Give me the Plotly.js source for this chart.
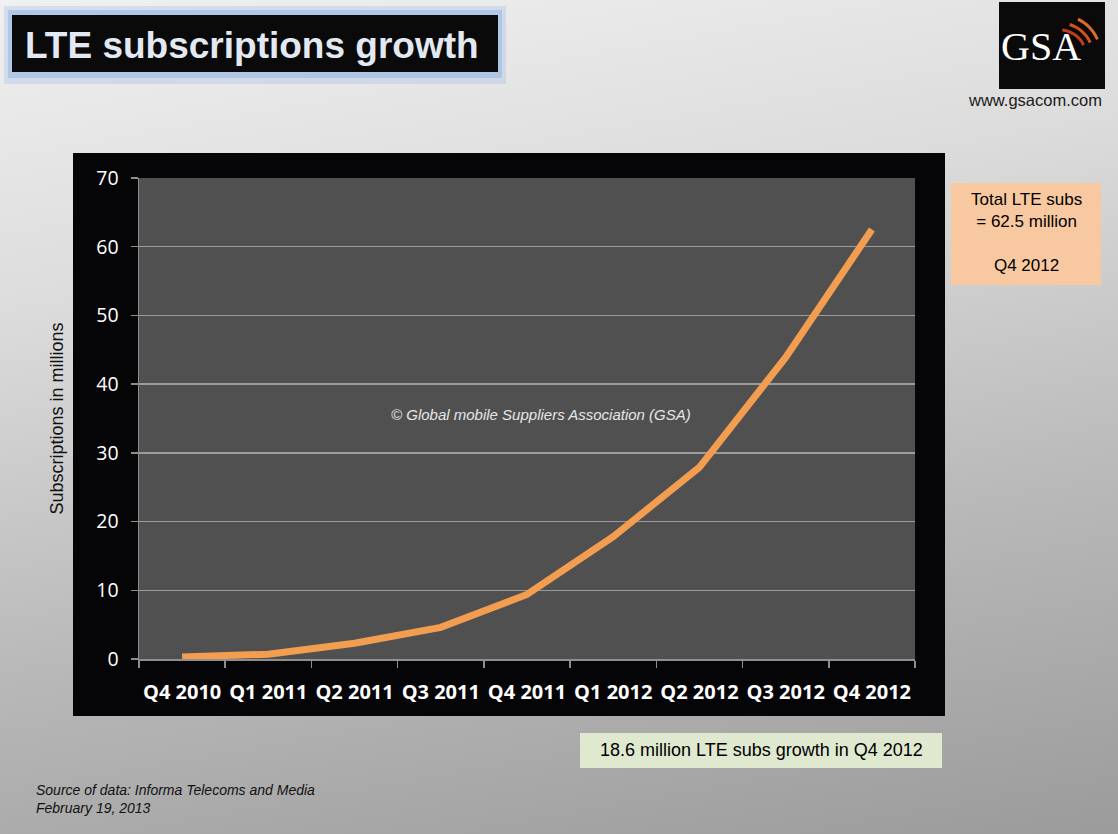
<!DOCTYPE html>
<html>
<head>
<meta charset="utf-8">
<script src="https://cdn.plot.ly/plotly-3.0.1.min.js"></script>
<style>
html, body { margin: 0; padding: 0; }
body {
  width: 1118px; height: 834px; overflow: hidden;
  background: linear-gradient(170deg, #f0f0f0 0%, #dcdcdc 30%, #b9b9b9 65%, #9b9b9b 100%);
}
#chart { width: 1118px; height: 834px; }
</style>
</head>
<body>
<div id="chart"></div>
<script>
// ---- data ----
const quarters = ['Q4 2010', 'Q1 2011', 'Q2 2011', 'Q3 2011', 'Q4 2011', 'Q1 2012', 'Q2 2012', 'Q3 2012', 'Q4 2012'];
const subsMillions = [0.3, 0.7, 2.3, 4.6, 9.4, 17.8, 27.9, 43.9, 62.5];
const yTicks = [0, 10, 20, 30, 40, 50, 60, 70];

// ---- layout geometry helpers (pixel -> paper) ----
const W = 1118, H = 834;
const M = {l: 139, r: 203, t: 178, b: 175};
const PW = W - M.l - M.r, PH = H - M.t - M.b;
const X = px => (px - M.l) / PW;
const Y = py => (H - M.b - py) / PH;

function rect(x0, y0, x1, y1, fill, extra) {
  return Object.assign({type: 'rect', xref: 'paper', yref: 'paper', layer: 'below',
    x0: X(x0), x1: X(x1), y0: Y(y1), y1: Y(y0), fillcolor: fill, line: {width: 0}}, extra || {});
}
function arcPath(cx, cy, r, a1, a2) {
  const n = 4, rad = Math.PI / 180;
  const pt = (a, rr) => [cx + rr * Math.cos(a * rad), cy - rr * Math.sin(a * rad)];
  let p = pt(a1, r);
  let d = 'M' + X(p[0]) + ',' + Y(p[1]);
  const step = (a2 - a1) / n;
  for (let i = 0; i < n; i++) {
    const am = a1 + step * (i + 0.5), ae = a1 + step * (i + 1);
    const c = pt(am, r / Math.cos(Math.abs(step) / 2 * rad));
    const e = pt(ae, r);
    d += ' Q' + X(c[0]) + ',' + Y(c[1]) + ' ' + X(e[0]) + ',' + Y(e[1]);
  }
  return d;
}

const shapes = [
  // title glow + box
  rect(4, 6, 506, 84, 'rgba(160,190,230,0.35)'),
  rect(8, 10, 502, 78, 'rgba(150,182,226,0.55)'),
  rect(12, 15, 498, 72, '#0a0a0a'),
  // GSA logo box
  rect(999, 2, 1105, 89, '#0a0a0a'),
  // chart frame and plot area
  rect(73, 153, 945, 716, '#050507'),
  rect(139, 178, 915, 659, '#505050'),
  // info boxes
  rect(951, 183, 1101, 285, '#f8c9a0'),
  rect(580, 733, 942, 768, '#dfe9cf')
];
[[26, 85, 25, '#c23c18'], [33, 73, 24, '#d4501f'], [41, 64, 24, '#e06a2c']].forEach(([r, a1, a2, c]) => {
  shapes.push({type: 'path', xref: 'paper', yref: 'paper', layer: 'above',
    path: arcPath(1060, 56, r, a1, a2), line: {color: c, width: 3}});
});

const ann = (text, px, py, font, extra) => Object.assign({
  text: text, x: X(px), y: Y(py), xref: 'paper', yref: 'paper',
  xanchor: 'center', yanchor: 'middle', showarrow: false, font: font}, extra || {});

const annotations = [
  ann('<b>LTE subscriptions growth</b>', 252, 45,
      {family: 'Liberation Sans, Arial', size: 37, color: '#e2e9f3'}),
  ann('GSA', 1041, 47, {family: 'Liberation Serif, Times New Roman, serif', size: 40, color: '#ffffff'}),
  ann('www.gsacom.com', 1035, 100, {family: 'Liberation Sans, Arial', size: 16.5, color: '#1a1a1a'}),
  ann('Total LTE subs<br>= 62.5 million<br> <br>Q4 2012', 1026, 233,
      {family: 'Liberation Sans, Arial', size: 17, color: '#000000'}, {align: 'center'}),
  ann('18.6 million LTE subs growth in Q4 2012', 761, 750,
      {family: 'Liberation Sans Narrow, Liberation Sans, Arial', size: 18, color: '#000000'}),
  ann('<i>© Global mobile Suppliers Association (GSA)</i>', 541, 414,
      {family: 'Liberation Sans, Arial', size: 15, color: '#e6e6e6'}),
  ann('<i>Source of data: Informa Telecoms and Media<br>February 19, 2013</i>', 34, 799,
      {family: 'Liberation Sans Narrow, Liberation Sans, Arial', size: 14, color: '#111111'},
      {xanchor: 'left', align: 'left'})
];

const trace = {
  type: 'scatter', mode: 'lines', x: quarters, y: subsMillions,
  line: {color: '#f29d50', width: 7, shape: 'linear'},
  hovertemplate: '%{x}: %{y} million<extra></extra>'
};

const layout = {
  width: W, height: H,
  margin: M,
  paper_bgcolor: 'rgba(0,0,0,0)',
  plot_bgcolor: '#505050',
  showlegend: false,
  xaxis: {
    type: 'category', range: [-0.5, quarters.length - 0.5],
    tickson: 'boundaries', ticks: 'outside', ticklen: 7, tickcolor: '#8e8e8e', tickwidth: 1.5,
    showline: true, linecolor: '#8e8e8e', linewidth: 1.5, showgrid: false, zeroline: false,
    tickangle: 0, ticklabelstandoff: 14,
    tickfont: {family: 'Open Sans, Liberation Sans, Arial', size: 20, color: '#ffffff', weight: 'bold'}
  },
  yaxis: {
    range: [0, 70], tickvals: yTicks, ticks: 'outside', ticklen: 7, tickcolor: '#8e8e8e', tickwidth: 1.5,
    showline: true, linecolor: '#8e8e8e', linewidth: 1.5,
    showgrid: true, gridcolor: '#9c9c9c', gridwidth: 1.5, zeroline: false,
    ticklabelstandoff: 8,
    tickfont: {family: 'Open Sans, Liberation Sans, Arial', size: 19.5, color: '#ffffff'},
    title: {text: 'Subscriptions in millions', standoff: 28,
            font: {family: 'Liberation Sans, Arial', size: 18, color: '#111111'}}
  },
  shapes: shapes,
  annotations: annotations
};

Plotly.newPlot('chart', [trace], layout, {displayModeBar: false, staticPlot: true});
</script>
</body>
</html>
